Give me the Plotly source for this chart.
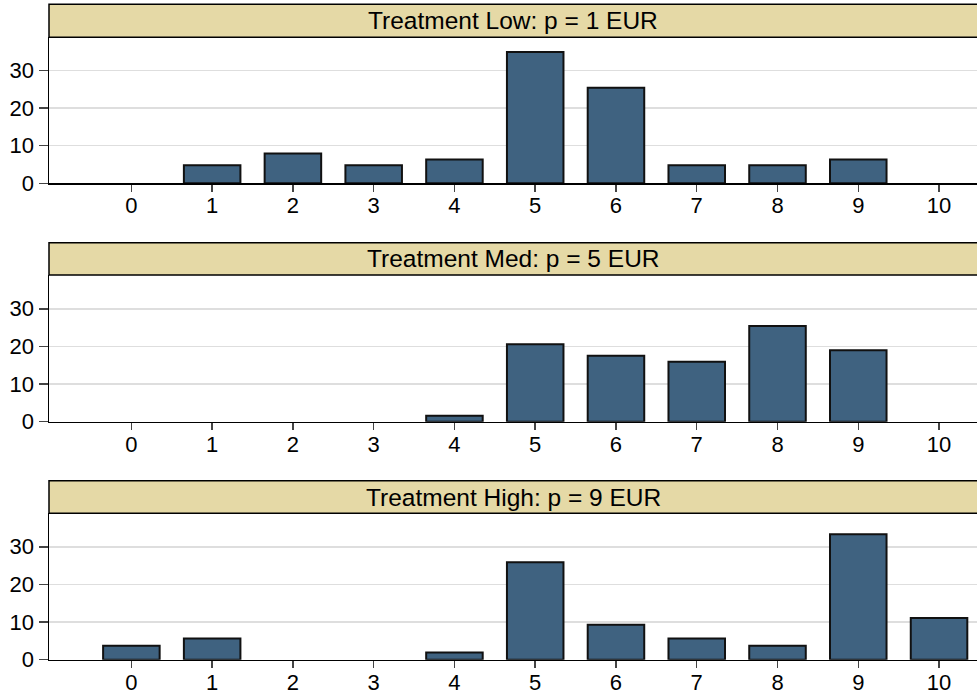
import plotly.graph_objects as go

# ---- data (percent of subjects per choice) ----
choices = [0, 1, 2, 3, 4, 5, 6, 7, 8, 9, 10]
low_vals = [0, 4.8, 7.9, 4.8, 6.3, 34.9, 25.4, 4.8, 4.8, 6.3, 0]
med_vals = [0, 0, 0, 0, 1.6, 20.6, 17.5, 15.9, 25.4, 19.0, 0]
high_vals = [3.7, 5.6, 0, 0, 1.9, 25.9, 9.3, 5.6, 3.7, 33.3, 11.1]
panel_titles = ["Treatment Low: p = 1 EUR", "Treatment Med: p = 5 EUR", "Treatment High: p = 9 EUR"]
y_ticks = [0, 10, 20, 30]

W, H = 977, 696
ML = 49
# pixel positions (top, bottom) of plot areas and strips
plot_px = [(37.3, 183.3), (275.0, 421.7), (513.3, 659.7)]
strip_px = [(4.3, 37.3), (242.7, 275.0), (480.7, 513.3)]

BAR = "#3f6280"
STRIP = "#e5d9a6"
FONT = "Liberation Sans, Arial, sans-serif"

fig = go.Figure()
series = [low_vals, med_vals, high_vals]
for i, vals in enumerate(series):
    ax = "" if i == 0 else str(i + 1)
    fig.add_trace(go.Bar(
        x=choices, y=vals, width=0.7,
        marker=dict(color=BAR, line=dict(color="#111111",
                                         width=[2 if v > 0 else 0 for v in vals])),
        xaxis="x" + ax, yaxis="y" + ax, showlegend=False, hoverinfo="skip",
    ))
    top, bot = plot_px[i]
    dom = [1 - bot / H, 1 - top / H]
    yrange_top = (bot - top) / 3.765
    fig.layout["xaxis" + ax] = dict(
        domain=[0, 1], range=[-1.02, 10.47], anchor="y" + ax,
        tickmode="array", tickvals=choices, ticktext=[str(c) for c in choices],
        ticks="outside", ticklen=7, tickwidth=1.5, tickcolor="#444444",
        ticklabelstandoff=-5,
        showline=True, linecolor="#000000", linewidth=1.5,
        showgrid=False, zeroline=False,
        tickfont=dict(family=FONT, size=22, color="#000000"),
        fixedrange=True,
    )
    fig.layout["yaxis" + ax] = dict(
        domain=dom, range=[0, yrange_top], anchor="x" + ax,
        tickmode="array", tickvals=y_ticks, ticktext=[str(t) for t in y_ticks],
        ticks="outside", ticklen=9, tickwidth=1.5, tickcolor="#444444",
        showline=True, linecolor="#000000", linewidth=1.5,
        showgrid=True, gridcolor="#dedede", gridwidth=1.5,
        zeroline=False,
        tickfont=dict(family=FONT, size=22, color="#000000"),
        fixedrange=True,
    )
    st, sb = strip_px[i]
    fig.add_shape(type="rect", xref="paper", yref="paper",
                  x0=0, x1=1.02, y0=1 - sb / H, y1=1 - st / H,
                  fillcolor=STRIP, line=dict(color="#000000", width=1.5), layer="above")
    fig.add_annotation(text=panel_titles[i], xref="paper", yref="paper",
                       x=0.5, y=1 - (st + sb) / 2 / H, xanchor="center", yanchor="middle",
                       showarrow=False, font=dict(family=FONT, size=24.5, color="#000000"))

fig.update_layout(
    width=W, height=H,
    margin=dict(l=ML, r=0, t=0, b=0, autoexpand=False),
    paper_bgcolor="white", plot_bgcolor="white",
    bargap=0, font=dict(family=FONT), hovermode=False,
)

fig.write_html("out.html", config={"displayModeBar": False, "staticPlot": True},
               post_script="document.body.style.margin='0';document.body.style.overflow='hidden';")
